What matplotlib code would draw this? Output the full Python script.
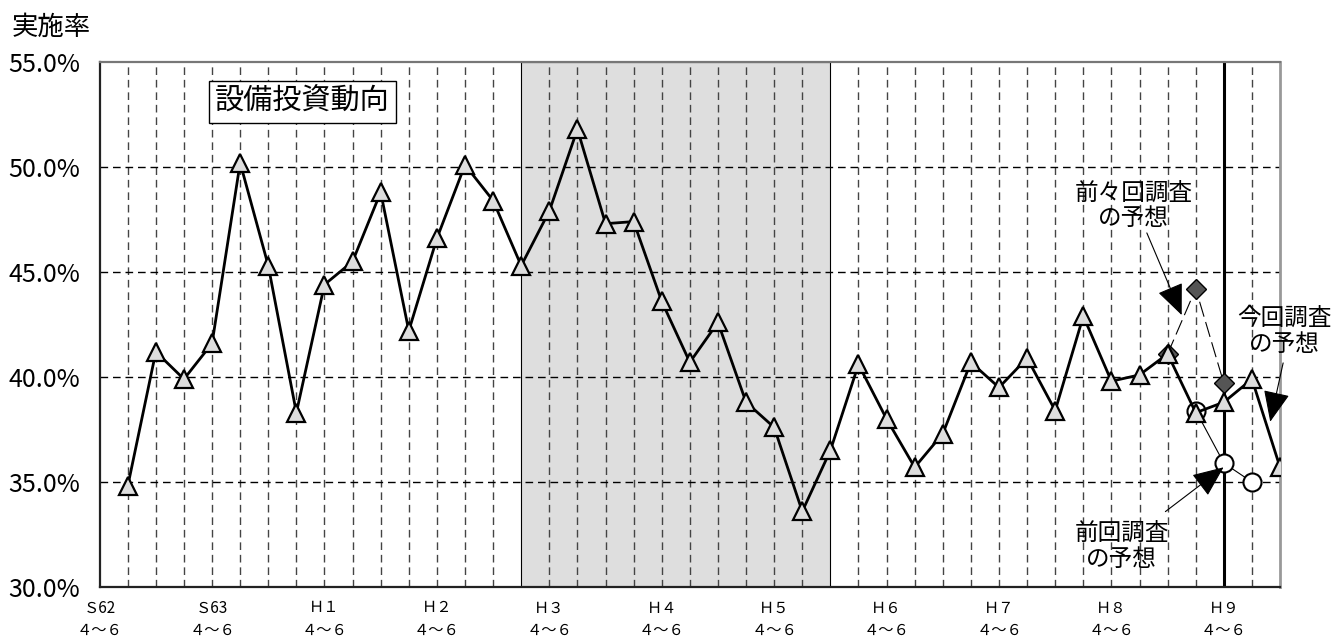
import numpy as np
import matplotlib
matplotlib.use("Agg")
import matplotlib.pyplot as plt

plt.rcParams["font.family"] = ["Noto Sans CJK JP", "DejaVu Sans"]

# -------------------------
# Data
# -------------------------

# quarter index: 0 = S62 4~6, one step per quarter
quarter_idx = np.arange(1, 43)

# 実施率 (%) per quarter, S62 7~9 .. H9 10~12
rate = [34.8, 41.2, 39.9, 41.6, 50.2, 45.3, 38.3, 44.4, 45.5, 48.8,
        42.2, 46.6, 50.1, 48.4, 45.3, 47.9, 51.8, 47.3, 47.4, 43.6,
        40.7, 42.6, 38.8, 37.6, 33.6, 36.5, 40.6, 38.0, 35.7, 37.3,
        40.7, 39.5, 40.9, 38.4, 42.9, 39.8, 40.1, 41.1, 38.3, 38.8,
        39.9, 35.7]

# forecasts from earlier surveys
prev2_idx = [38, 39, 40]
prev2_rate = [41.1, 44.2, 39.7]     # 前々回調査の予想
prev1_idx = [39, 40, 41]
prev1_rate = [38.4, 35.9, 35.0]     # 前回調査の予想

year_labels = ["Ｓ62", "Ｓ63", "Ｈ１", "Ｈ２", "Ｈ３", "Ｈ４",
               "Ｈ５", "Ｈ６", "Ｈ７", "Ｈ８", "Ｈ９"]
year_idx = np.arange(0, 41, 4)

shade_start, shade_end = 15, 26
current_idx = 40

# -------------------------
# Figure
# -------------------------

fig = plt.figure(figsize=(13.32, 6.43), dpi=100)
ax = fig.add_axes([0.0748, 0.0871, 0.8862, 0.8165])

ax.set_xlim(0, 42)
ax.set_ylim(30, 55)

# shaded period
ax.axvspan(shade_start, shade_end, facecolor="#dedede",
           edgecolor="black", linewidth=0.8, zorder=0)

# grid lines
for x in range(1, 42):
    if x in (shade_start, shade_end, current_idx):
        continue
    ax.axvline(x, color="#444444", linewidth=1.0,
               linestyle=(0, (5.5, 3.5)), zorder=1)
for y in [35, 40, 45, 50]:
    ax.axhline(y, color="black", linewidth=1.0,
               linestyle=(0, (5.5, 3.5)), zorder=1)

# current quarter marker line
ax.axvline(current_idx, color="black", linewidth=2.2, zorder=2)

# earlier forecasts
ax.plot(prev2_idx, prev2_rate, color="black", linewidth=0.8,
        linestyle=(0, (14, 5)), marker="D", markersize=10,
        markerfacecolor="#555555", markeredgecolor="black",
        markeredgewidth=1.0, zorder=3)
ax.plot(prev1_idx, prev1_rate, color="black", linewidth=0.8,
        marker="o", markersize=13, markerfacecolor="white",
        markeredgecolor="black", markeredgewidth=1.5, zorder=3)

# actual rate
ax.plot(quarter_idx, rate, color="black", linewidth=2.0,
        marker="^", markersize=13, markerfacecolor="#dddddd",
        markeredgecolor="black", markeredgewidth=1.6, zorder=4)

# axes styling
ax.spines["left"].set_color("#222222")
ax.spines["left"].set_linewidth(1.6)
ax.spines["bottom"].set_color("#222222")
ax.spines["bottom"].set_linewidth(1.6)
ax.spines["top"].set_color("#777777")
ax.spines["top"].set_linewidth(1.6)
ax.spines["right"].set_color("#999999")
ax.spines["right"].set_linewidth(2.0)

ax.set_yticks([30, 35, 40, 45, 50, 55])
ax.set_yticklabels([f"{v:.1f}%" for v in [30, 35, 40, 45, 50, 55]],
                   fontsize=18)
ax.tick_params(axis="y", length=0, pad=14)

ax.set_xticks(year_idx)
ax.set_xticklabels([f"{y}\n４～６" for y in year_labels],
                   fontsize=11, linespacing=1.45)
ax.tick_params(axis="x", length=0, pad=9)

fig.text(51 / 1332, 1 - 27 / 643, "実施率", fontsize=19,
         ha="center", va="center")

# title box
ax.text(7.22, 53.1, "設備投資動向", fontsize=21, ha="center", va="center",
        bbox=dict(boxstyle="square,pad=0.2", facecolor="white",
                  edgecolor="black", linewidth=1.0), zorder=6)

# callouts
arrow = dict(arrowstyle="-|>,head_length=0.7,head_width=0.3",
             mutation_scale=28, color="black", linewidth=0.8,
             shrinkA=0, shrinkB=0)

ax.text(36.8, 48.15, "前々回調査\nの予想", fontsize=17, ha="center",
        va="center", linespacing=1.15, zorder=6)
ax.annotate("", xy=(38.5, 42.95), xytext=(37.26, 46.86),
            arrowprops=arrow, zorder=6)

ax.text(42.15, 42.17, "今回調査\nの予想", fontsize=17, ha="center",
        va="center", linespacing=1.15, zorder=6, clip_on=False)
ax.annotate("", xy=(41.65, 37.87), xytext=(42.11, 40.67),
            arrowprops=arrow, zorder=6, annotation_clip=False)

ax.text(36.37, 31.93, "前回調査\nの予想", fontsize=17, ha="center",
        va="center", linespacing=1.15, zorder=6)
ax.annotate("", xy=(39.99, 35.7), xytext=(37.92, 33.59),
            arrowprops=arrow, zorder=6)

fig.savefig("out.png", dpi=100)
